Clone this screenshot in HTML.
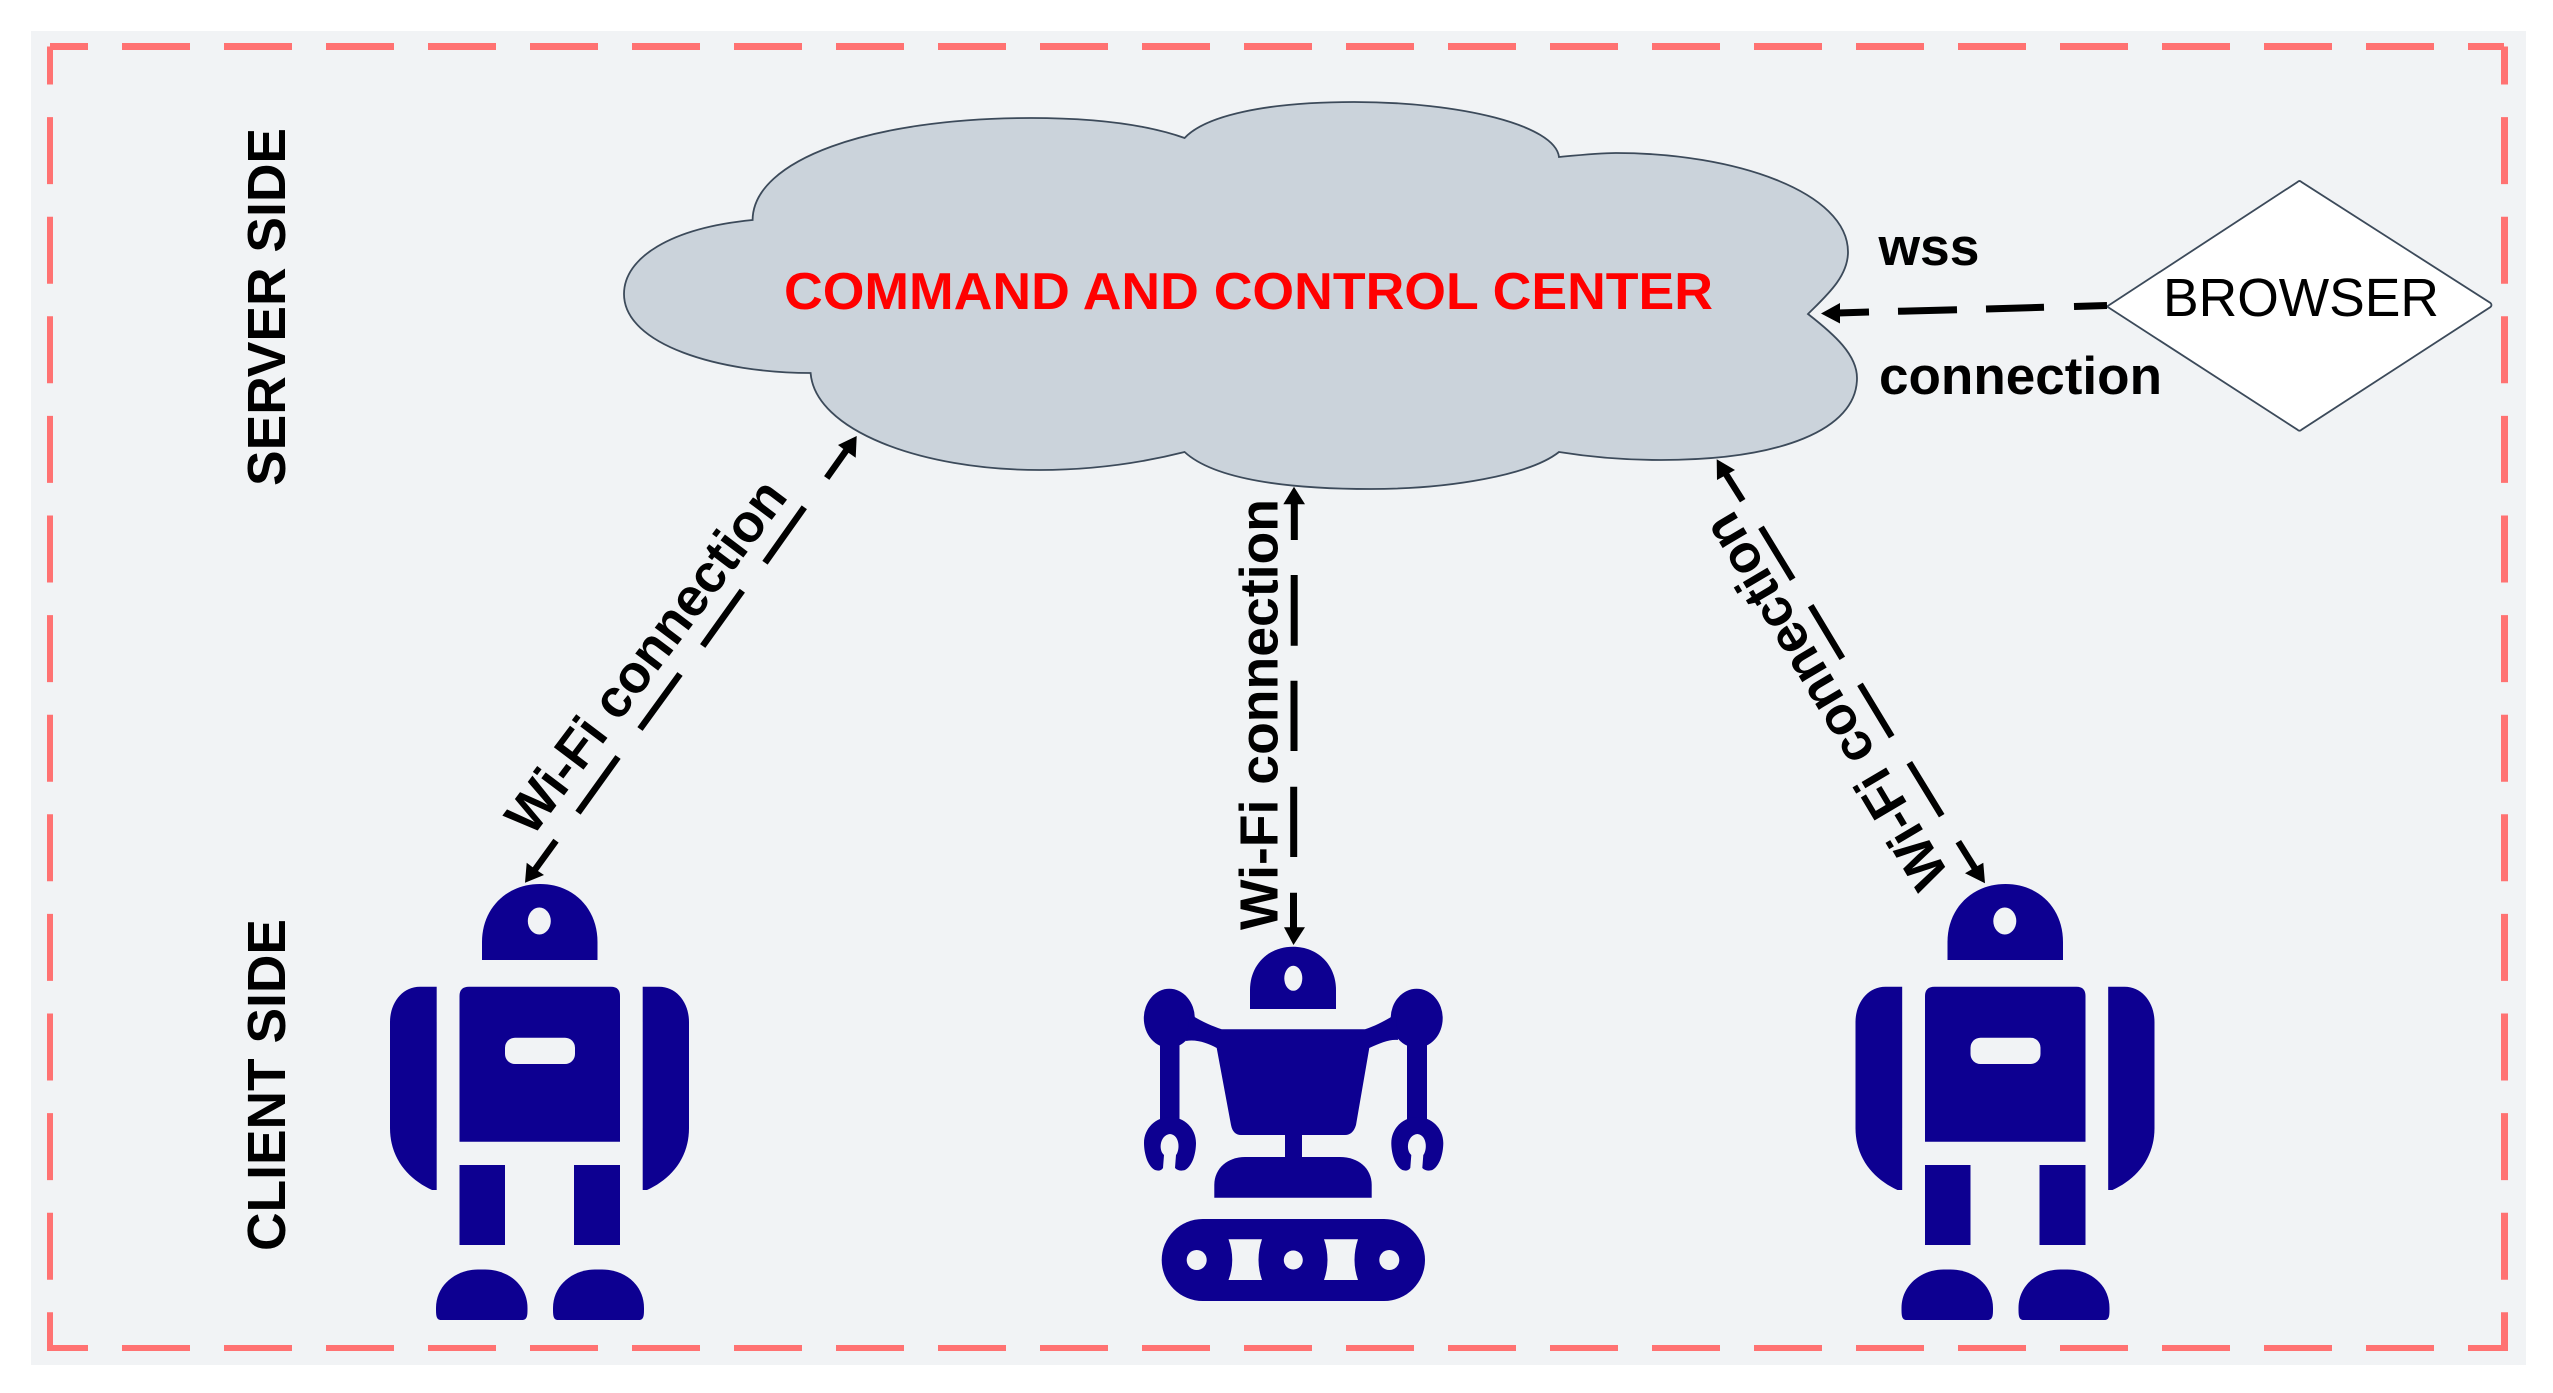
<!DOCTYPE html>
<html>
<head>
<meta charset="utf-8">
<style>
html,body{margin:0;padding:0;background:#fff;}
svg{display:block;}
text{font-family:"Liberation Sans",sans-serif;}
</style>
</head>
<body>
<svg width="2553" height="1393" viewBox="0 0 2553 1393" xmlns="http://www.w3.org/2000/svg">
<rect x="0" y="0" width="2553" height="1393" fill="#fff"/>
<rect x="31" y="31" width="2495" height="1334" fill="#f1f3f5"/>

<!-- dashed frame -->
<g stroke="#ff7272" fill="none">
<line x1="50" y1="46.5" x2="2504" y2="46.5" stroke-width="7" stroke-dasharray="68 34" stroke-dashoffset="30"/>
<line x1="50" y1="1348" x2="2505" y2="1348" stroke-width="6" stroke-dasharray="68 34" stroke-dashoffset="30"/>
<line x1="50" y1="46.5" x2="50" y2="1351" stroke-width="6" stroke-dasharray="67 32.6" stroke-dashoffset="29"/>
<line x1="2504.5" y1="46.5" x2="2504.5" y2="1351" stroke-width="7" stroke-dasharray="67 32.6" stroke-dashoffset="29"/>
</g>

<!-- cloud -->
<path d="M752.6,220 C753,160 870,118 1031,118 C1090,118 1145,124 1184.6,138 C1205,116 1265,102 1354,102 C1460,102 1555,125 1559,157 C1580,155 1600,153 1616,153 C1735,153 1848,192 1848,252 C1848,277 1826,296 1808,314 C1835,335 1857,355 1857,378 C1857,430 1780,460 1661,460 C1625,460 1590,457 1559,452 C1530,475 1450,489 1371,489 C1290,489 1215,480 1184.6,452 C1145,462 1095,470 1039.5,470 C920,470 815,430 810.6,373 C720,373 624,345 624,294 C624,258 670,228 752.6,220 Z" fill="#cbd3db" stroke="#3c4a5a" stroke-width="1.8"/>
<text x="784" y="309" font-size="52" font-weight="bold" fill="#ff0000" textLength="929" lengthAdjust="spacingAndGlyphs">COMMAND AND CONTROL CENTER</text>

<!-- browser diamond -->
<path d="M2297.5,182 Q2299.5,180 2301.5,182 L2490.5,303 Q2492.5,305 2490.5,307 L2301.5,429.7 Q2299.5,431.7 2297.5,429.7 L2107,306.5 Z" fill="#fff" stroke="#3c4a5a" stroke-width="1.8"/>
<text x="2163" y="316" font-size="54" fill="#000" textLength="276" lengthAdjust="spacingAndGlyphs">BROWSER</text>

<!-- side labels -->
<text transform="translate(285,486) rotate(-90)" font-size="54" font-weight="bold" fill="#000" textLength="358" lengthAdjust="spacingAndGlyphs">SERVER SIDE</text>
<text transform="translate(285,1251) rotate(-90)" font-size="54" font-weight="bold" fill="#000" textLength="332" lengthAdjust="spacingAndGlyphs">CLIENT SIDE</text>

<!-- wss labels -->
<text x="1878.5" y="265" font-size="53" font-weight="bold" fill="#000" textLength="101" lengthAdjust="spacingAndGlyphs">wss</text>
<text x="1879" y="394" font-size="53" font-weight="bold" fill="#000" textLength="283" lengthAdjust="spacingAndGlyphs">connection</text>

<!-- wss connector -->
<g stroke="#000" stroke-width="7" fill="none">
<line x1="2107" y1="305.5" x2="2074" y2="306.5"/>
<line x1="2044" y1="307.3" x2="1986" y2="309"/>
<line x1="1957" y1="309.7" x2="1898" y2="311.3"/>
<line x1="1869" y1="312" x2="1838" y2="313"/>
</g>
<polygon points="1821,313.5 1840,303 1840,323.5" fill="#000"/>

<!-- left connector -->
<g stroke="#000" stroke-width="6.5" fill="none">
<line x1="826.7" y1="478" x2="848" y2="448"/>
<line x1="765" y1="562.7" x2="804.3" y2="507.3"/>
<line x1="702.7" y1="646" x2="742.3" y2="590.7"/>
<line x1="640" y1="729" x2="680" y2="674"/>
<line x1="578" y1="812.7" x2="618" y2="757"/>
<line x1="556" y1="840.7" x2="534" y2="871"/>
</g>
<polygon points="856.7,436 838,445 846,451 855.7,457.7" fill="#000"/>
<polygon points="525,882.7 526.7,862.7 535,869 544,875" fill="#000"/>
<text transform="translate(532,838) rotate(-53)" font-size="54" font-weight="bold" fill="#000" textLength="427" lengthAdjust="spacingAndGlyphs">Wi-Fi connection</text>

<!-- center connector -->
<g stroke="#000" stroke-width="7" fill="none">
<line x1="1294.3" y1="540" x2="1294.3" y2="500"/>
<line x1="1294.2" y1="575" x2="1294.2" y2="645.7"/>
<line x1="1294" y1="680.7" x2="1294" y2="751"/>
<line x1="1293.7" y1="786.7" x2="1293.7" y2="857"/>
<line x1="1293.5" y1="892.7" x2="1293.5" y2="930"/>
</g>
<polygon points="1294,486.7 1283.3,504.3 1305,504.3" fill="#000"/>
<polygon points="1293.5,945 1284,927.3 1305,927.3" fill="#000"/>
<text transform="translate(1277.5,930) rotate(-90)" font-size="54" font-weight="bold" fill="#000" textLength="431" lengthAdjust="spacingAndGlyphs">Wi-Fi connection</text>

<!-- right connector -->
<g stroke="#000" stroke-width="6.5" fill="none">
<line x1="1742.7" y1="500.7" x2="1724" y2="471"/>
<line x1="1761" y1="527.3" x2="1792.7" y2="579.3"/>
<line x1="1810.7" y1="605.7" x2="1842.3" y2="658.3"/>
<line x1="1860" y1="684.3" x2="1891.7" y2="736.7"/>
<line x1="1909.3" y1="762.7" x2="1941.7" y2="815.7"/>
<line x1="1958.3" y1="841.7" x2="1976" y2="870"/>
</g>
<polygon points="1716.7,459.3 1717,480 1726,475 1735,470" fill="#000"/>
<polygon points="1985,883.3 1965,873.3 1974,868 1983.3,862.7" fill="#000"/>
<text transform="translate(1950,875) rotate(-120.7)" font-size="54" font-weight="bold" fill="#000" textLength="426" lengthAdjust="spacingAndGlyphs">Wi-Fi connection</text>

<!-- robot left -->
<g fill="#0d0091">
<path d="M482,960 V942 C482,908 507,884 540,884 C573,884 597.5,908 597.5,942 V960 Z"/>
<path d="M469,986.7 H611 Q620,986.7 620,996 V1141.7 H459.5 V996 Q459.5,986.7 469,986.7 Z"/>
<path d="M436.7,986.7 H420 C402,986.7 390,1003 390,1022 V1128 C390,1160 410,1180 432,1190 H436.7 Z"/>
<path d="M642.7,986.7 H659 C677,986.7 689,1003 689,1022 V1128 C689,1160 669,1180 647,1190 H642.7 Z"/>
<rect x="459.5" y="1165" width="45.5" height="80"/>
<rect x="574" y="1165" width="46" height="80"/>
<path d="M441,1320 C436,1320 436,1315 436,1308 C436,1285 456,1269.5 478,1269.5 H485 C508,1269.5 527.5,1285 527.5,1308 C527.5,1315 527.5,1320 522,1320 Z"/>
<path d="M558,1320 C553,1320 553,1315 553,1308 C553,1285 573,1269.5 595,1269.5 H602 C625,1269.5 644,1285 644,1308 C644,1315 644,1320 639,1320 Z"/>
</g>
<ellipse cx="539.3" cy="921" rx="11.5" ry="13.5" fill="#f1f3f5"/>
<rect x="505" y="1037.7" width="70" height="26.3" rx="10" fill="#f1f3f5"/>

<!-- robot right -->
<g transform="translate(1465.5,0)">
<g fill="#0d0091">
<path d="M482,960 V942 C482,908 507,884 540,884 C573,884 597.5,908 597.5,942 V960 Z"/>
<path d="M469,986.7 H611 Q620,986.7 620,996 V1141.7 H459.5 V996 Q459.5,986.7 469,986.7 Z"/>
<path d="M436.7,986.7 H420 C402,986.7 390,1003 390,1022 V1128 C390,1160 410,1180 432,1190 H436.7 Z"/>
<path d="M642.7,986.7 H659 C677,986.7 689,1003 689,1022 V1128 C689,1160 669,1180 647,1190 H642.7 Z"/>
<rect x="459.5" y="1165" width="45.5" height="80"/>
<rect x="574" y="1165" width="46" height="80"/>
<path d="M441,1320 C436,1320 436,1315 436,1308 C436,1285 456,1269.5 478,1269.5 H485 C508,1269.5 527.5,1285 527.5,1308 C527.5,1315 527.5,1320 522,1320 Z"/>
<path d="M558,1320 C553,1320 553,1315 553,1308 C553,1285 573,1269.5 595,1269.5 H602 C625,1269.5 644,1285 644,1308 C644,1315 644,1320 639,1320 Z"/>
</g>
<ellipse cx="539.3" cy="921" rx="11.5" ry="13.5" fill="#f1f3f5"/>
<rect x="505" y="1037.7" width="70" height="26.3" rx="10" fill="#f1f3f5"/>
</g>

<!-- robot center -->
<g fill="#0d0091">
<path d="M1250,1009 V990 C1250,965 1268,946.7 1293,946.7 C1318,946.7 1336,965 1336,990 V1009 Z"/>
<ellipse cx="1169.3" cy="1018.3" rx="25.5" ry="29.5"/>
<ellipse cx="1416.7" cy="1018.3" rx="26" ry="29.5"/>
<path d="M1190,1014 C1200,1021 1212,1026 1221.7,1029.3 H1365 C1375,1026 1385,1021 1396,1014 L1398,1040 C1390,1039 1380,1043 1369.3,1048 L1356,1125 Q1353,1135 1345,1135 H1241 Q1233,1135 1231,1125 L1216.7,1048 C1208,1043 1196,1039 1186,1041 Z"/>
<rect x="1160" y="1040" width="19.5" height="82"/>
<rect x="1407" y="1040" width="20" height="82"/>
<path d="M1155,1170 C1146,1165 1144,1150 1144,1143 C1144,1128 1156,1117 1170,1117 C1184,1117 1196,1128 1196,1143 C1196,1150 1194,1165 1185,1170 C1182,1171 1178,1171 1175,1168 L1176,1155 C1180,1150 1180,1135 1170,1134 C1160,1135 1158,1150 1164,1155 L1163,1168 C1161,1171 1158,1171 1155,1170 Z"/>
<path transform="translate(247.3,0)" d="M1155,1170 C1146,1165 1144,1150 1144,1143 C1144,1128 1156,1117 1170,1117 C1184,1117 1196,1128 1196,1143 C1196,1150 1194,1165 1185,1170 C1182,1171 1178,1171 1175,1168 L1176,1155 C1180,1150 1180,1135 1170,1134 C1160,1135 1158,1150 1164,1155 L1163,1168 C1161,1171 1158,1171 1155,1170 Z"/>
<rect x="1285" y="1130" width="17" height="32"/>
<path d="M1214.3,1197.7 V1185 C1214.3,1168 1228,1157 1245,1157 H1340 C1358,1157 1371.7,1168 1371.7,1185 V1197.7 Z"/>
<rect x="1161.7" y="1219" width="263.3" height="82" rx="41"/>
</g>
<g fill="#f1f3f5">
<ellipse cx="1293.3" cy="978.3" rx="9" ry="12.5"/>
<circle cx="1196.7" cy="1260" r="10"/>
<circle cx="1293.3" cy="1260" r="9.5"/>
<circle cx="1389.3" cy="1260" r="10"/>
<path d="M1228.5,1239.3 H1262 Q1255,1260 1262,1280 H1228.5 Q1236,1260 1228.5,1239.3 Z"/>
<path d="M1324,1239.3 H1358 Q1351,1260 1358,1280 H1324 Q1331,1260 1324,1239.3 Z"/>
</g>
</svg>
</body>
</html>
